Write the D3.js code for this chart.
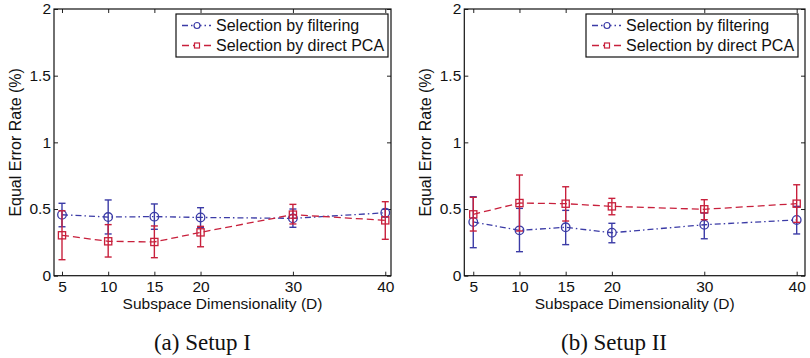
<!DOCTYPE html>
<html>
<head>
<meta charset="utf-8">
<script src="https://cdn.jsdelivr.net/npm/d3@7/dist/d3.min.js"></script>
<style>
  body { margin: 0; background: #fff; }
  text { font-family: "Liberation Sans", Arial, sans-serif; fill: #111; }
  .caption { font-family: "Liberation Serif", "Times New Roman", serif; }
</style>
</head>
<body>
<div id="chart"></div>
<script>
// subspace dimensionality on the x axis
var dims = [5, 10, 15, 20, 30, 40];
var yTicks = [0, 0.5, 1, 1.5, 2];
var yTickLabels = ["0", "0.5", "1", "1.5", "2"];
var seriesNames = ["Selection by filtering", "Selection by direct PCA"];

// (a) Setup I
var filtMeanA = [0.457, 0.440, 0.443, 0.437, 0.430, 0.472];
var filtLoA   = [0.367, 0.313, 0.348, 0.360, 0.363, 0.440];
var filtHiA   = [0.543, 0.568, 0.538, 0.510, 0.500, 0.498];
var pcaMeanA  = [0.303, 0.258, 0.253, 0.325, 0.458, 0.415];
var pcaLoA    = [0.120, 0.140, 0.135, 0.217, 0.388, 0.273];
var pcaHiA    = [0.487, 0.383, 0.373, 0.370, 0.535, 0.555];

// (b) Setup II
var filtMeanB = [0.403, 0.340, 0.363, 0.322, 0.382, 0.418];
var filtLoB   = [0.210, 0.180, 0.233, 0.247, 0.277, 0.313];
var filtHiB   = [0.592, 0.505, 0.490, 0.393, 0.470, 0.520];
var pcaMeanB  = [0.460, 0.545, 0.540, 0.520, 0.498, 0.540];
var pcaLoB    = [0.335, 0.335, 0.410, 0.457, 0.420, 0.400];
var pcaHiB    = [0.588, 0.755, 0.667, 0.580, 0.570, 0.682];

var W = 810, H = 358;
var blue = "#3b3ba6", red = "#c8203c";

var svg = d3.select("#chart").append("svg")
    .attr("width", W)
    .attr("height", H);

var panels = [
    { left: 54, right: 391, xlim: [4.134, 40.62], ylabelX: 15, legendRight: 388,
      caption: "(a) Setup I", capX: 202.5,
      filt: [filtMeanA, filtLoA, filtHiA], pca: [pcaMeanA, pcaLoA, pcaHiA] },
    { left: 464.3, right: 805, xlim: [4.03, 40.9], ylabelX: 425, legendRight: 798,
      caption: "(b) Setup II", capX: 614,
      filt: [filtMeanB, filtLoB, filtHiB], pca: [pcaMeanB, pcaLoB, pcaHiB] }
];

var plotTop = 9, plotBottom = 275.7;

function zip(mean, lo, hi) {
    return dims.map(function(d, i) { return { x: d, y: mean[i], lo: lo[i], hi: hi[i] }; });
}

function drawSeries(g, x, y, data, color, dash, marker) {
    var line = d3.line().x(function(d) { return x(d.x); }).y(function(d) { return y(d.y); });
    g.append("path")
        .datum(data)
        .attr("d", line)
        .attr("fill", "none")
        .attr("stroke", color)
        .attr("stroke-width", 1.3)
        .attr("stroke-dasharray", dash);

    var eb = g.append("g").selectAll("g").data(data).enter().append("g")
        .attr("stroke", color)
        .attr("stroke-width", 1.4);
    eb.append("line")
        .attr("x1", function(d) { return x(d.x); }).attr("x2", function(d) { return x(d.x); })
        .attr("y1", function(d) { return y(d.lo); }).attr("y2", function(d) { return y(d.hi); });
    ["lo", "hi"].forEach(function(k) {
        eb.append("line")
            .attr("x1", function(d) { return x(d.x) - 3.5; }).attr("x2", function(d) { return x(d.x) + 3.5; })
            .attr("y1", function(d) { return y(d[k]); }).attr("y2", function(d) { return y(d[k]); });
    });

    var mk = g.append("g").selectAll(".mk").data(data).enter();
    if (marker === "circle") {
        mk.append("circle")
            .attr("cx", function(d) { return x(d.x); })
            .attr("cy", function(d) { return y(d.y); })
            .attr("r", 4.3)
            .attr("fill", "none")
            .attr("stroke", color)
            .attr("stroke-width", 1.3);
    } else {
        mk.append("rect")
            .attr("x", function(d) { return x(d.x) - 3.6; })
            .attr("y", function(d) { return y(d.y) - 3.6; })
            .attr("width", 7.2)
            .attr("height", 7.2)
            .attr("fill", "none")
            .attr("stroke", color)
            .attr("stroke-width", 1.3);
    }
}

panels.forEach(function(p) {
    var x = d3.scaleLinear().domain(p.xlim).range([p.left, p.right]);
    var y = d3.scaleLinear().domain([0, 2]).range([plotBottom, plotTop]);
    var g = svg.append("g");

    // ticks inward on all four sides (matlab box)
    var axes = [
        { a: d3.axisBottom(x).tickValues(dims).tickFormat(d3.format("d")).tickPadding(5), t: "translate(0," + plotBottom + ")" },
        { a: d3.axisTop(x).tickValues(dims).tickFormat(""), t: "translate(0," + plotTop + ")" },
        { a: d3.axisLeft(y).tickValues(yTicks).tickFormat(function(d, i) { return yTickLabels[i]; }).tickPadding(3), t: "translate(" + p.left + ",0)" },
        { a: d3.axisRight(y).tickValues(yTicks).tickFormat(""), t: "translate(" + p.right + ",0)" }
    ];
    axes.forEach(function(ax) {
        var gg = g.append("g").attr("transform", ax.t)
            .call(ax.a.tickSizeInner(-4).tickSizeOuter(0));
        gg.select(".domain").remove();
        gg.selectAll(".tick line").attr("stroke", "#222");
        gg.selectAll(".tick text")
            .style("font-family", "Liberation Sans, Arial, sans-serif")
            .style("font-size", "15.5px")
            .attr("fill", "#111");
    });

    // box
    g.append("rect")
        .attr("x", p.left).attr("y", plotTop)
        .attr("width", p.right - p.left).attr("height", plotBottom - plotTop)
        .attr("fill", "none").attr("stroke", "#111").attr("stroke-width", 1.2);

    drawSeries(g, x, y, zip(p.filt[0], p.filt[1], p.filt[2]), blue, "6,3,1.5,3", "circle");
    drawSeries(g, x, y, zip(p.pca[0], p.pca[1], p.pca[2]), red, "7,4", "square");

    // legend
    var lw = 212, lh = 43, lx = p.legendRight - lw, ly = 14;
    var lg = g.append("g").attr("transform", "translate(" + lx + "," + ly + ")");
    lg.append("rect").attr("width", lw).attr("height", lh)
        .attr("fill", "#fff").attr("stroke", "#111").attr("stroke-width", 1.2);
    [[blue, "6,3,1.5,3", "circle"], [red, "7,4", "square"]].forEach(function(s, i) {
        var cy = 11.5 + i * 20;
        lg.append("line").attr("x1", 6).attr("x2", 35).attr("y1", cy).attr("y2", cy)
            .attr("stroke", s[0]).attr("stroke-width", 1.3).attr("stroke-dasharray", s[1]);
        if (s[2] === "circle") {
            lg.append("circle").attr("cx", 21).attr("cy", cy).attr("r", 3)
                .attr("fill", "#fff").attr("stroke", s[0]).attr("stroke-width", 1.2);
        } else {
            lg.append("rect").attr("x", 18.5).attr("y", cy - 2.5).attr("width", 5).attr("height", 5)
                .attr("fill", "#fff").attr("stroke", s[0]).attr("stroke-width", 1.2);
        }
        lg.append("text").attr("x", 40).attr("y", cy).attr("dy", "0.36em")
            .style("font-size", "16px").text(seriesNames[i]);
    });

    // axis titles
    g.append("text")
        .attr("x", (p.left + p.right) / 2).attr("y", 309)
        .attr("text-anchor", "middle")
        .style("font-size", "15.5px")
        .text("Subspace Dimensionality (D)");
    g.append("text")
        .attr("transform", "translate(" + p.ylabelX + "," + ((plotTop + plotBottom) / 2) + ")rotate(-90)")
        .attr("dy", "0.36em")
        .attr("text-anchor", "middle")
        .style("font-size", "16px")
        .text("Equal Error Rate (%)");

    g.append("text")
        .attr("class", "caption")
        .attr("x", p.capX).attr("y", 350)
        .attr("text-anchor", "middle")
        .style("font-size", "23px")
        .text(p.caption);
});
</script>
</body>
</html>
